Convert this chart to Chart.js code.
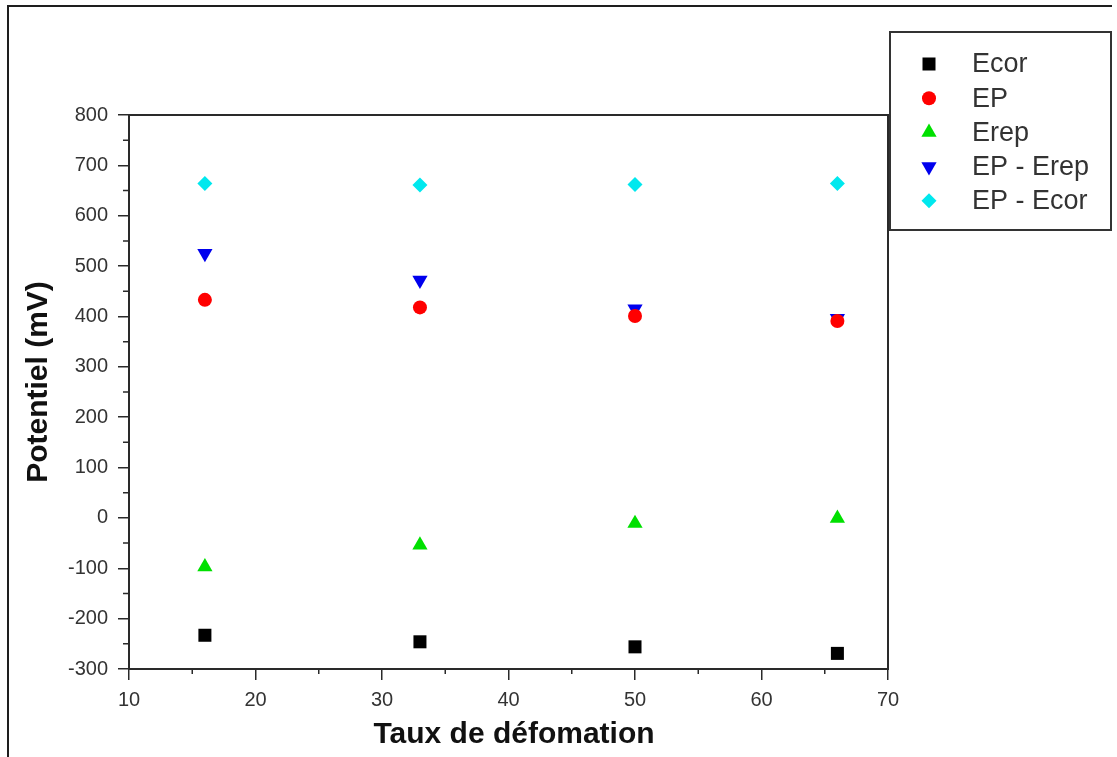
<!DOCTYPE html>
<html>
<head>
<meta charset="utf-8">
<script src="https://cdn.jsdelivr.net/npm/chart.js@4/dist/chart.umd.min.js"></script>
<style>
  html, body { margin: 0; padding: 0; background: #fff; }
  #wrap { width: 1117px; height: 757px; }
</style>
</head>
<body>
<div id="wrap"><canvas id="scatterChart" width="1117" height="757"></canvas></div>
<script>
// taux de deformation (%)
var taux = [16, 33, 50, 66];
var ecor = [-233, -246, -256, -269];
var ep = [433, 418, 401, 391];
var erep = [-97, -54, -11, -1];
var epErep = [525, 472, 415, 396];
var epEcor = [664, 661, 662, 664];
var xTicks = [10, 20, 30, 40, 50, 60, 70];
var yTicks = [-300, -200, -100, 0, 100, 200, 300, 400, 500, 600, 700, 800];

function pts(ys) {
    return taux.map(function (x, i) { return {x: x, y: ys[i]}; });
}

var FONT = "'Liberation Sans', Arial, sans-serif";
var INK = '#2a2a2a';

var series = [
    {label: 'Ecor', data: pts(ecor), color: '#000000', style: 'rect', radius: 9.2, rot: 0},
    {label: 'EP', data: pts(ep), color: '#ff0000', style: 'circle', radius: 7, rot: 0},
    {label: 'Erep', data: pts(erep), color: '#00e000', style: 'triangle', radius: 8.8, rot: 0},
    {label: 'EP - Erep', data: pts(epErep), color: '#0000ee', style: 'triangle', radius: 8.8, rot: 180},
    {label: 'EP - Ecor', data: pts(epEcor), color: '#00e8ee', style: 'rectRot', radius: 7.5, rot: 0}
];

var datasets = series.map(function (s) {
    return {
        label: s.label,
        data: s.data,
        backgroundColor: s.color,
        borderColor: s.color,
        borderWidth: 0,
        pointStyle: s.style,
        pointRadius: s.radius,
        pointHoverRadius: s.radius,
        pointRotation: s.rot,
        showLine: false
    };
});

// frame, minor ticks, titles and the boxed legend
var decor = {
    id: 'decor',
    beforeDraw: function (chart) {
        var ctx = chart.ctx;
        ctx.save();
        ctx.fillStyle = '#fff';
        ctx.fillRect(0, 0, chart.width, chart.height);
        ctx.strokeStyle = '#1e1e1e';
        ctx.lineWidth = 2;
        ctx.beginPath();
        ctx.moveTo(7, 6);
        ctx.lineTo(1112, 6);
        ctx.moveTo(8, 6);
        ctx.lineTo(8, 757);
        ctx.stroke();
        ctx.restore();
    },
    afterDraw: function (chart) {
        var ctx = chart.ctx;
        var a = chart.chartArea;
        var xs = chart.scales.x, ys = chart.scales.y;
        ctx.save();
        ctx.strokeStyle = INK;
        ctx.lineWidth = 2;
        ctx.strokeRect(a.left, a.top, a.right - a.left, a.bottom - a.top);

        // minor ticks
        ctx.lineWidth = 1.5;
        ctx.beginPath();
        for (var v = 15; v < 70; v += 10) {
            var px = xs.getPixelForValue(v);
            ctx.moveTo(px, a.bottom);
            ctx.lineTo(px, a.bottom + 5);
        }
        for (var w = -250; w < 800; w += 100) {
            var py = ys.getPixelForValue(w);
            ctx.moveTo(a.left, py);
            ctx.lineTo(a.left - 6, py);
        }
        ctx.stroke();

        // axis titles
        ctx.fillStyle = '#111';
        ctx.font = 'bold 30px ' + FONT;
        ctx.textAlign = 'center';
        ctx.textBaseline = 'alphabetic';
        ctx.fillText('Taux de défomation', 514, 743);
        ctx.save();
        ctx.translate(47, 382);
        ctx.rotate(-Math.PI / 2);
        ctx.fillText('Potentiel (mV)', 0, 0);
        ctx.restore();

        // legend box
        var bx = 890, by = 32, bw = 221, bh = 198;
        ctx.fillStyle = '#fff';
        ctx.fillRect(bx, by, bw, bh);
        ctx.strokeStyle = '#333';
        ctx.lineWidth = 2;
        ctx.strokeRect(bx, by, bw, bh);
        ctx.font = '27px ' + FONT;
        ctx.textAlign = 'left';
        ctx.textBaseline = 'middle';
        chart.data.datasets.forEach(function (ds, i) {
            var ry = 64 + i * 34.2;
            ctx.fillStyle = ds.backgroundColor;
            ctx.strokeStyle = ds.backgroundColor;
            Chart.helpers.drawPoint(ctx, {
                pointStyle: ds.pointStyle,
                radius: ds.pointRadius,
                rotation: ds.pointRotation,
                borderWidth: 0
            }, 929, ry);
            ctx.fillStyle = '#333';
            ctx.fillText(ds.label, 972, ry + 1);
        });
        ctx.restore();
    }
};

var ctx = document.getElementById('scatterChart').getContext('2d');
new Chart(ctx, {
    type: 'scatter',
    data: {datasets: datasets},
    plugins: [decor],
    options: {
        responsive: false,
        animation: false,
        layout: {padding: {left: 0, top: 115, right: 229, bottom: 0}},
        plugins: {legend: {display: false}, tooltip: {enabled: false}},
        scales: {
            x: {
                type: 'linear',
                min: 10,
                max: 70,
                afterFit: function (scale) { scale.height = 88; },
                afterBuildTicks: function (scale) {
                    scale.ticks = xTicks.map(function (v) { return {value: v}; });
                },
                grid: {drawOnChartArea: false, drawTicks: true, tickLength: 11, color: INK, lineWidth: 1.5},
                border: {display: true, color: INK, width: 2},
                ticks: {color: '#333', padding: 8, font: {family: FONT, size: 20}}
            },
            y: {
                type: 'linear',
                min: -300,
                max: 800,
                afterFit: function (scale) { scale.width = 129; },
                afterBuildTicks: function (scale) {
                    scale.ticks = yTicks.map(function (v) { return {value: v}; });
                },
                grid: {drawOnChartArea: false, drawTicks: true, tickLength: 11, color: INK, lineWidth: 1.5},
                border: {display: true, color: INK, width: 2},
                ticks: {color: '#333', padding: 10, font: {family: FONT, size: 20}}
            }
        }
    }
});
</script>
</body>
</html>
